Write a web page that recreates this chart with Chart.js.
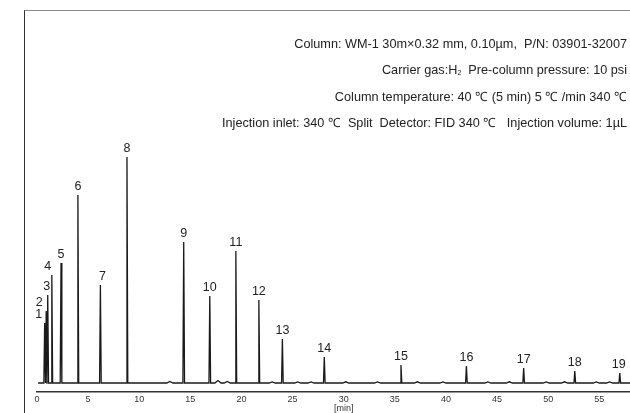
<!DOCTYPE html>
<html lang="en">
<head>
    <title>GC Chromatogram</title>
    <meta charset="UTF-8">
    <style>
        body {
            margin: 0;
            font-family: "Liberation Sans", Arial, sans-serif;
            background: #fff;
        }
        #wrap {
            position: relative;
            width: 630px;
            height: 413px;
            overflow: hidden;
        }
        #frame {
            position: absolute;
            left: 24px;
            top: 10px;
            width: 620px;
            height: 420px;
            border-left: 1.5px solid #333;
            border-top: 1.5px solid #8a8a8a;
        }
        #plot {
            position: absolute;
            left: 0;
            top: 0;
        }
        .cond {
            position: absolute;
            right: 3px;
            font-size: 12.7px;
            color: #222;
            white-space: pre;
            line-height: 14px;
        }
        .cond sub {
            font-size: 7px;
            vertical-align: -1px;
        }
    </style>
</head>
<body>
<div id="wrap">
    <div id="frame"></div>
    <canvas id="plot" width="630" height="413"></canvas>
    <div class="cond" style="top:37px">Column: WM-1 30m×0.32 mm, 0.10µm,  P/N: 03901-32007</div>
    <div class="cond" style="top:63px">Carrier gas:H<sub>2</sub>  Pre-column pressure: 10 psi</div>
    <div class="cond" style="top:90px">Column temperature: 40 ℃ (5 min) 5 ℃ /min 340 ℃</div>
    <div class="cond" style="top:116px">Injection inlet: 340 ℃  Split  Detector: FID 340 ℃   Injection volume: 1µL</div>
</div>
<script src="https://cdn.jsdelivr.net/npm/chart.js"></script>
<script>
    // numbered peaks: retention time (min) and height (detector response)
    const peakNames = ['1', '2', '3', '4', '5', '6', '7', '8', '9', '10',
        '11', '12', '13', '14', '15', '16', '17', '18', '19'];
    const peakTimes = [0.75, 0.9, 1.05, 1.45, 2.35, 4.0, 6.2, 8.8, 14.35, 16.9,
        19.45, 21.7, 24.0, 28.1, 35.6, 42.0, 47.6, 52.6, 57.0];
    const peakHeights = [60, 72, 88, 108, 120, 188, 98, 226, 141, 87,
        132, 83, 44, 26, 18, 17, 15, 12, 10];
    // label nudges left/right (px), for the crowded early peaks
    const labelShift = [-6, -7, -1, -4, 0, 0, 2, 0, 0, 0, 0, 0, 0, 0, 0, 0, 0, 0, -1];

    // small unnamed bumps on the baseline
    const minorTimes = [13.0, 17.7, 18.6, 23.0, 25.5, 26.8, 30.2, 33.3, 37.2, 39.7,
        44.1, 46.2, 49.8, 51.6, 54.7, 56.0];
    const minorHeights = [1.5, 2.5, 1.5, 1, 1, 1, 1.2, 1, 1.2, 1, 1, 1.2, 1, 1.2, 1, 1];

    const xTicks = [0, 5, 10, 15, 20, 25, 30, 35, 40, 45, 50, 55];

    // build the trace from the peak list
    const peaks = [];
    peakTimes.forEach((t, i) => peaks.push({ t: t, h: peakHeights[i], w: 0.08 }));
    minorTimes.forEach((t, i) => peaks.push({ t: t, h: minorHeights[i], w: 0.3 }));
    peaks.sort((a, b) => a.t - b.t);

    const trace = [{ x: 0.1, y: 0 }];
    peaks.forEach(p => {
        trace.push({ x: p.t - p.w, y: 0 });
        trace.push({ x: p.t, y: p.h });
        trace.push({ x: p.t + p.w, y: 0 });
    });
    trace.push({ x: 58, y: 0 });

    const peakLabels = {
        id: 'peakLabels',
        afterDatasetsDraw(chart) {
            const ctx = chart.ctx;
            const xs = chart.scales.x;
            const ys = chart.scales.y;
            ctx.save();
            ctx.font = '12.5px "Liberation Sans", Arial, sans-serif';
            ctx.fillStyle = '#222';
            ctx.textAlign = 'center';
            ctx.textBaseline = 'bottom';
            peakNames.forEach((name, i) => {
                const x = xs.getPixelForValue(peakTimes[i]) + labelShift[i];
                const y = ys.getPixelForValue(peakHeights[i]) - 2;
                ctx.fillText(name, x, y);
            });
            ctx.restore();
        }
    };

    const ctx = document.getElementById('plot').getContext('2d');
    const chromatogram = new Chart(ctx, {
        type: 'line',
        data: {
            datasets: [{
                data: trace,
                borderColor: '#1a1a1a',
                borderWidth: 1.3,
                pointRadius: 0,
                tension: 0,
                fill: false
            }]
        },
        options: {
            responsive: false,
            animation: false,
            layout: {
                padding: { left: 37, right: 0, top: 11, bottom: 0 }
            },
            plugins: {
                legend: { display: false },
                tooltip: { enabled: false }
            },
            scales: {
                x: {
                    type: 'linear',
                    min: 0,
                    max: 58,
                    grid: { display: false, drawTicks: false },
                    border: { display: true, color: '#333', width: 1.5 },
                    afterBuildTicks(scale) {
                        scale.ticks = xTicks.map(v => ({ value: v }));
                    },
                    afterFit(scale) {
                        scale.height = 21;
                    },
                    ticks: {
                        padding: 3,
                        color: '#333',
                        maxRotation: 0,
                        autoSkip: false,
                        font: { size: 9, family: '"Liberation Sans", Arial, sans-serif', lineHeight: 1.0 },
                        callback: v => v === 30 ? ['30', '[min]'] : String(v)
                    }
                },
                y: {
                    display: false,
                    min: -9,
                    max: 372
                }
            }
        },
        plugins: [peakLabels]
    });
</script>
</body>
</html>
